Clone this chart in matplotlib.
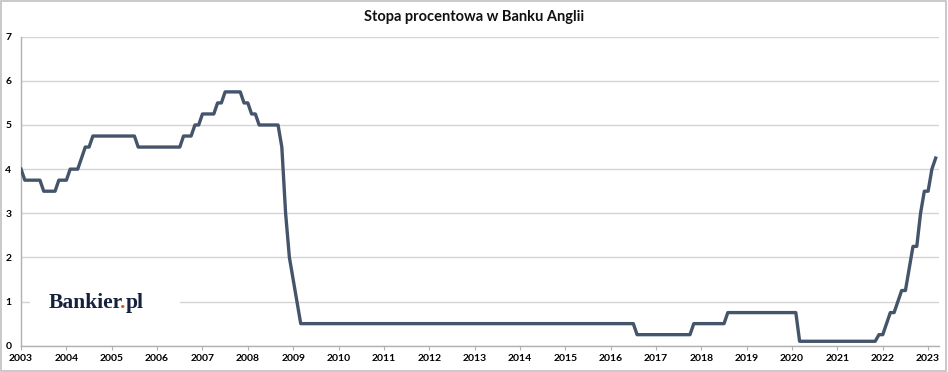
import matplotlib
matplotlib.use("Agg")
import matplotlib.pyplot as plt
from matplotlib.patches import Rectangle

# Bank of England rate, monthly (end of month), Jan 2003 .. Mar 2023
rate_2003 = [4.0, 3.75, 3.75, 3.75, 3.75, 3.75, 3.5, 3.5, 3.5, 3.5, 3.75, 3.75]
rate_2004 = [3.75, 4.0, 4.0, 4.0, 4.25, 4.5, 4.5, 4.75, 4.75, 4.75, 4.75, 4.75]
rate_2005 = [4.75, 4.75, 4.75, 4.75, 4.75, 4.75, 4.75, 4.5, 4.5, 4.5, 4.5, 4.5]
rate_2006 = [4.5, 4.5, 4.5, 4.5, 4.5, 4.5, 4.5, 4.75, 4.75, 4.75, 5.0, 5.0]
rate_2007 = [5.25, 5.25, 5.25, 5.25, 5.5, 5.5, 5.75, 5.75, 5.75, 5.75, 5.75, 5.5]
rate_2008 = [5.5, 5.25, 5.25, 5.0, 5.0, 5.0, 5.0, 5.0, 5.0, 4.5, 3.0, 2.0]
rate_2009 = [1.5, 1.0, 0.5, 0.5, 0.5, 0.5, 0.5, 0.5, 0.5, 0.5, 0.5, 0.5]
rate_2010 = [0.5, 0.5, 0.5, 0.5, 0.5, 0.5, 0.5, 0.5, 0.5, 0.5, 0.5, 0.5]
rate_2011 = [0.5, 0.5, 0.5, 0.5, 0.5, 0.5, 0.5, 0.5, 0.5, 0.5, 0.5, 0.5]
rate_2012 = [0.5, 0.5, 0.5, 0.5, 0.5, 0.5, 0.5, 0.5, 0.5, 0.5, 0.5, 0.5]
rate_2013 = [0.5, 0.5, 0.5, 0.5, 0.5, 0.5, 0.5, 0.5, 0.5, 0.5, 0.5, 0.5]
rate_2014 = [0.5, 0.5, 0.5, 0.5, 0.5, 0.5, 0.5, 0.5, 0.5, 0.5, 0.5, 0.5]
rate_2015 = [0.5, 0.5, 0.5, 0.5, 0.5, 0.5, 0.5, 0.5, 0.5, 0.5, 0.5, 0.5]
rate_2016 = [0.5, 0.5, 0.5, 0.5, 0.5, 0.5, 0.5, 0.25, 0.25, 0.25, 0.25, 0.25]
rate_2017 = [0.25, 0.25, 0.25, 0.25, 0.25, 0.25, 0.25, 0.25, 0.25, 0.25, 0.5, 0.5]
rate_2018 = [0.5, 0.5, 0.5, 0.5, 0.5, 0.5, 0.5, 0.75, 0.75, 0.75, 0.75, 0.75]
rate_2019 = [0.75, 0.75, 0.75, 0.75, 0.75, 0.75, 0.75, 0.75, 0.75, 0.75, 0.75, 0.75]
rate_2020 = [0.75, 0.75, 0.1, 0.1, 0.1, 0.1, 0.1, 0.1, 0.1, 0.1, 0.1, 0.1]
rate_2021 = [0.1, 0.1, 0.1, 0.1, 0.1, 0.1, 0.1, 0.1, 0.1, 0.1, 0.1, 0.25]
rate_2022 = [0.25, 0.5, 0.75, 0.75, 1.0, 1.25, 1.25, 1.75, 2.25, 2.25, 3.0, 3.5]
rate_2023 = [3.5, 4.0, 4.25]

rates = (rate_2003 + rate_2004 + rate_2005 + rate_2006 + rate_2007 + rate_2008
         + rate_2009 + rate_2010 + rate_2011 + rate_2012 + rate_2013 + rate_2014
         + rate_2015 + rate_2016 + rate_2017 + rate_2018 + rate_2019 + rate_2020
         + rate_2021 + rate_2022 + rate_2023)
months = [2003 + i / 12 for i in range(len(rates))]

year_ticks = list(range(2003, 2024))
y_ticks = [0, 1, 2, 3, 4, 5, 6, 7]

TITLE = "Stopa procentowa w Banku Anglii"
LINE_COLOR = "#44546a"
GRID_COLOR = "#d4d4d4"
AXIS_COLOR = "#b0b0b0"
FONT = ["Lato", "DejaVu Sans"]
LOGO_FONT = "Liberation Serif"
LOGO_SIZE = 15.5

fig = plt.figure(figsize=(9.48, 3.72), dpi=100)
ax = fig.add_axes([0.0222, 0.0707, 0.9683, 0.8306])

ax.plot(months, rates, color=LINE_COLOR, linewidth=2.4, solid_joinstyle="round",
        zorder=3)

ax.set_xlim(2003, 2023.24)
ax.set_ylim(0, 7)
ax.set_xticks(year_ticks)
ax.set_xticklabels([str(y) for y in year_ticks], fontsize=7.5, fontweight="bold",
                   family=FONT)
ax.set_yticks(y_ticks)
ax.set_yticklabels([str(v) for v in y_ticks], fontsize=7.5, fontweight="bold",
                   family=FONT)
ax.yaxis.grid(True, color=GRID_COLOR, linewidth=1.0)
ax.set_axisbelow(True)
ax.tick_params(axis="y", length=0, pad=7)
ax.tick_params(axis="x", length=3, color=AXIS_COLOR, pad=3)

for side in ("top", "right"):
    ax.spines[side].set_visible(False)
for side in ("left", "bottom"):
    ax.spines[side].set_color(AXIS_COLOR)
    ax.spines[side].set_linewidth(1.0)

fig.text(0.5, 0.955, TITLE, ha="center", va="center", fontsize=10.5,
         fontweight="bold", family=FONT, color="#111111")

# logo: white box hides the gridline behind it
ax.add_patch(Rectangle((2003.2, 0.75), 3.3, 0.5, facecolor="white",
                       edgecolor="none", zorder=2))
logo = ax.text(2003.62, 0.97, "Bankier", fontsize=LOGO_SIZE, fontweight="bold",
               family=LOGO_FONT, color="#16213e", va="center", ha="left",
               zorder=4)
dot = ax.annotate(".", xy=(1, 0), xycoords=logo, xytext=(-2.2, 0),
                  textcoords="offset points", fontsize=LOGO_SIZE,
                  fontweight="bold", family=LOGO_FONT, color="#e8541e",
                  va="bottom", ha="left", zorder=5)
ax.annotate("pl", xy=(1, 0), xycoords=dot, xytext=(0.0, 0),
            textcoords="offset points", fontsize=LOGO_SIZE, fontweight="bold",
            family=LOGO_FONT, color="#16213e", va="bottom", ha="left", zorder=5)

fig.patches.append(Rectangle((0.001, 0.002), 0.997, 0.995, transform=fig.transFigure,
                             fill=False, edgecolor="#c0c0c0", linewidth=1.2))

fig.savefig("out.png", dpi=100)
plt.close(fig)
